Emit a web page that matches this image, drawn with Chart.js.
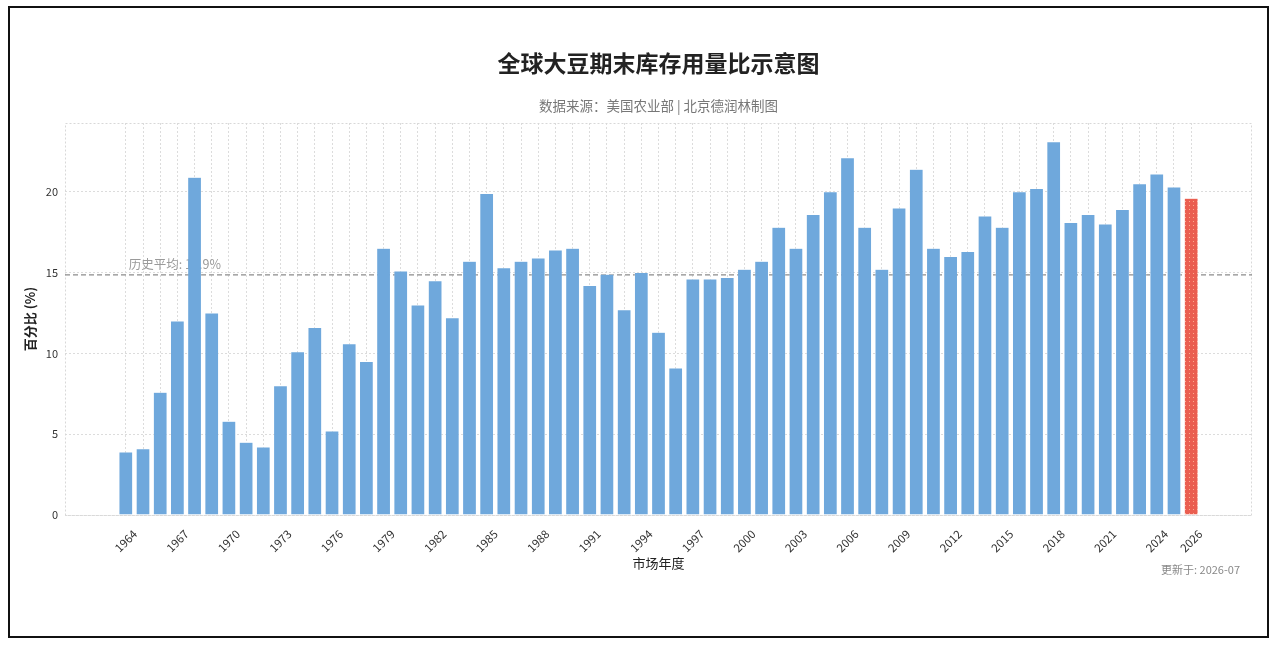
<!DOCTYPE html>
<html>
<head>
<meta charset="utf-8">
<script src="https://cdn.jsdelivr.net/npm/chart.js@4.4.1/dist/chart.umd.min.js"></script>
<style>
  html, body { margin: 0; padding: 0; background: #fff; }
  #wrap { position: relative; width: 1278px; height: 648px; overflow: hidden; }
  #c { position: absolute; left: 0; top: 0; }
  #frame { position: absolute; left: 8px; top: 6px; width: 1257px; height: 628px; border: 2px solid #111; pointer-events: none; }
</style>
</head>
<body>
<div id="wrap">
  <canvas id="c" width="1278" height="648"></canvas>
  <div id="frame"></div>
</div>
<script>
// ---- data ----
const years = [1964,1965,1966,1967,1968,1969,1970,1971,1972,1973,1974,1975,1976,1977,1978,1979,
  1980,1981,1982,1983,1984,1985,1986,1987,1988,1989,1990,1991,1992,1993,1994,1995,1996,1997,1998,1999,
  2000,2001,2002,2003,2004,2005,2006,2007,2008,2009,2010,2011,2012,2013,2014,2015,2016,2017,2018,2019,
  2020,2021,2022,2023,2024,2025,2026];
const stocksToUse = [3.9,4.1,7.6,12.0,20.9,12.5,5.8,4.5,4.2,8.0,10.1,11.6,5.2,10.6,9.5,16.5,
  15.1,13.0,14.5,12.2,15.7,19.9,15.3,15.7,15.9,16.4,16.5,14.2,14.9,12.7,15.0,11.3,9.1,14.6,14.6,14.7,
  15.2,15.7,17.8,16.5,18.6,20.0,22.1,17.8,15.2,19.0,21.4,16.5,16.0,16.3,18.5,17.8,20.0,20.2,23.1,18.1,
  18.6,18.0,18.9,20.5,21.1,20.3,19.6];
const xTickLabels = [1964,1967,1970,1973,1976,1979,1982,1985,1988,1991,1994,1997,2000,2003,2006,2009,2012,2015,2018,2021,2024,2026];
const yTickValues = [0,5,10,15,20];
const forecastYear = 2026;
const titleText = '全球大豆期末库存用量比示意图';
const subtitleText = '数据来源：美国农业部 | 北京德润林制图';
const updateText = '更新于: 2026-07';

// historical average (excluding forecast year)
const hist = stocksToUse.filter((v, i) => years[i] !== forecastYear);
const avgValue = hist.reduce((a, b) => a + b, 0) / hist.length;

// ---- chart ----
const FONT = "'Noto Sans CJK SC', 'Noto Sans', sans-serif";
const canvas = document.getElementById('c');
const ctx = canvas.getContext('2d');

const pc = document.createElement('canvas');
pc.width = 4; pc.height = 4;
const pctx = pc.getContext('2d');
pctx.fillStyle = '#EA5E50'; pctx.fillRect(0, 0, 4, 4);
pctx.fillStyle = 'rgba(255,190,160,0.8)'; pctx.fillRect(1, 1, 1, 1);
const redPattern = ctx.createPattern(pc, 'repeat');

const barColor = '#6FA8DC';
const xPad = 0.05 * ((years[years.length - 1] + 0.4) - (years[0] - 0.4));
const xMin = years[0] - 0.4 - xPad;
const xMax = years[years.length - 1] + 0.4 + xPad;
const yMax = Math.max(...stocksToUse) * 1.05;

const barData = years.map((y, i) => ({ x: y, y: stocksToUse[i] }));
const barColors = years.map(y => y === forecastYear ? redPattern : barColor);

const textPlugin = {
  id: 'textPlugin',
  beforeDatasetsDraw(chart) {
    const a = chart.chartArea;
    const c = chart.ctx;
    const xs = chart.scales.x, ys = chart.scales.y;
    c.save();
    c.strokeStyle = '#d8d8d8';
    c.lineWidth = 1;
    c.setLineDash([2, 2]);
    c.strokeRect(a.left + 0.5, a.top + 0.5, a.right - a.left - 1, a.bottom - a.top);
    c.setLineDash([]);
    c.font = '12.5px ' + FONT;
    c.fillStyle = '#9a9a9a';
    c.textAlign = 'left';
    c.textBaseline = 'middle';
    c.fillText('历史平均: ' + avgValue.toFixed(1) + '%', xs.getPixelForValue(years[0]) + 3, ys.getPixelForValue(avgValue) - 11);
    c.restore();
  },
  afterDraw(chart) {
    const c = chart.ctx;
    const a = chart.chartArea;
    const cx = (a.left + a.right) / 2;
    c.save();
    c.textBaseline = 'middle';
    c.textAlign = 'center';
    c.fillStyle = '#222';
    c.font = 'bold 23px ' + FONT;
    c.fillText(titleText, cx, 63);
    c.fillStyle = '#777';
    c.font = '13.5px ' + FONT;
    c.fillText(subtitleText, cx, 106);
    c.font = '11px ' + FONT;
    c.fillStyle = '#888';
    c.textAlign = 'right';
    c.fillText(updateText, a.right - 12, 570);
    c.restore();
  }
};

new Chart(canvas, {
  type: 'bar',
  data: {
    datasets: [
      {
        type: 'bar',
        data: barData,
        backgroundColor: barColors,
        borderColor: 'rgba(255,255,255,0.6)',
        borderWidth: 0.5,
        barPercentage: 0.8,
        categoryPercentage: 1.0,
        order: 1
      },
      {
        type: 'line',
        data: [{ x: xMin, y: avgValue }, { x: xMax, y: avgValue }],
        borderColor: '#8c8c8c',
        borderWidth: 1.3,
        borderDash: [5, 3],
        pointRadius: 0,
        fill: false,
        order: 2
      }
    ]
  },
  options: {
    responsive: false,
    animation: false,
    devicePixelRatio: 1,
    layout: { padding: { left: 20, right: 26, top: 123, bottom: 73 } },
    plugins: {
      legend: { display: false },
      tooltip: { enabled: false },
      title: { display: false },
      subtitle: { display: false }
    },
    scales: {
      x: {
        type: 'linear',
        offset: false,
        min: xMin,
        max: xMax,
        afterBuildTicks(scale) { scale.ticks = years.map(v => ({ value: v })); },
        afterFit(scale) { scale.height = 60; },
        grid: { color: '#dcdcdc', lineWidth: 1, drawTicks: false, offset: false },
        border: { display: false, dash: [2, 2] },
        ticks: {
          autoSkip: false,
          maxRotation: 45,
          minRotation: 45,
          padding: 12,
          labelOffset: 9,
          color: '#333',
          font: { family: FONT, size: 11.5 },
          callback(v) { return xTickLabels.includes(v) ? String(v) : ''; }
        },
        title: {
          display: true,
          text: '市场年度',
          color: '#222',
          font: { family: FONT, size: 13 },
          padding: 4
        }
      },
      y: {
        type: 'linear',
        min: 0,
        max: yMax,
        afterBuildTicks(scale) { scale.ticks = yTickValues.map(v => ({ value: v })); },
        afterFit(scale) { scale.width = 45; },
        grid: { color: '#dcdcdc', lineWidth: 1, drawTicks: false },
        border: { display: false, dash: [2, 2] },
        ticks: {
          padding: 7,
          color: '#333',
          font: { family: FONT, size: 11 }
        },
        title: {
          display: true,
          text: '百分比 (%)',
          color: '#222',
          font: { family: FONT, size: 13, weight: 'bold' },
          padding: 2
        }
      }
    }
  },
  plugins: [textPlugin]
});
</script>
</body>
</html>
